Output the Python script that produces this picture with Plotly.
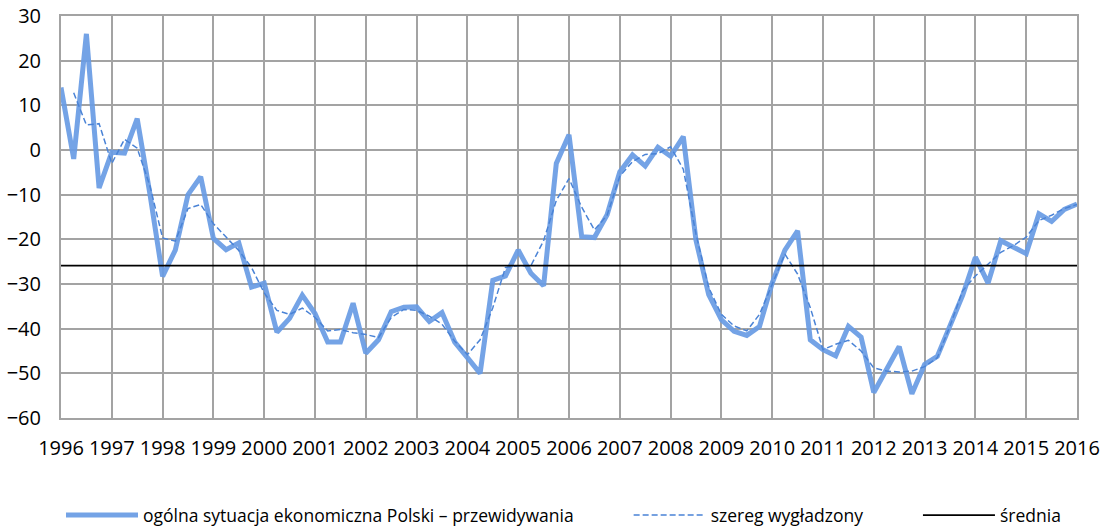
import plotly.graph_objects as go

# Quarterly data, 1996 Q1 .. 2016 Q1
start_year = 1996
main_values = [
    14, -2, 26, -8.5,            # 1996
    -0.5, -0.7, 7, -9.8,         # 1997
    -28.3, -22.4, -10, -6,       # 1998
    -19.8, -22.3, -20.8, -30.7,  # 1999
    -29.8, -40.8, -37.7, -32.5,  # 2000
    -36.6, -43, -43, -34.3,      # 2001
    -45.5, -42.5, -36.2, -35.2,  # 2002
    -35.1, -38.4, -36.4, -43,    # 2003
    -46.5, -50, -29.2, -28.2,    # 2004
    -22.4, -27.6, -30.4, -3,     # 2005
    3.4, -19.4, -19.6, -14.5,    # 2006
    -4.9, -1.1, -3.6, 0.6,       # 2007
    -1.4, 3, -20.2, -32.4,       # 2008
    -38, -40.6, -41.5, -39.5,    # 2009
    -29.8, -22.4, -18.1, -42.5,  # 2010
    -44.7, -46.1, -39.5, -41.9,  # 2011
    -54.3, -49.2, -44, -54.6,    # 2012
    -48, -46.2, -39.5, -32.5,    # 2013
    -24, -29.8, -20.3, -21.6,    # 2014
    -23.2, -14.3, -16, -13.3,    # 2015
    -12.1,                       # 2016
]

# smoothed series starts at 1996 Q2
smoothed_values = [
    12.8, 5.6, 5.9,              # 1996
    -3, 2.4, 0.4, -8,            # 1997
    -19.7, -20.4, -13.1, -12.2,  # 1998
    -16.5, -19.5, -22.5, -26.3,  # 1999
    -32, -35.9, -36.8, -35.4,    # 2000
    -37.5, -40.5, -40.2, -40.9,  # 2001
    -41.3, -42, -37.5, -35.7,    # 2002
    -35.9, -37.2, -39, -42.8,    # 2003
    -45.8, -42.5, -35.3, -26.3,  # 2004
    -25.9, -25.9, -20.3, -11.3,  # 2005
    -6.4, -12.8, -17.9, -14.6,   # 2006
    -5.9, -2.6, -1, -0.8,        # 2007
    0.7, -4.3, -18.8, -30.8,     # 2008
    -36.8, -39.4, -40.5, -36.8,  # 2009
    -30, -23.3, -27.8, -35.3,    # 2010
    -44.7, -43.5, -42.6, -45,    # 2011
    -48.8, -49.5, -49.7, -49.5,  # 2012
    -48.5, -46.5, -39.4, -31.5,  # 2013
    -28.2, -25.5, -22.9, -21.4,  # 2014
    -19.5, -15.8, -14.6, -13.1,  # 2015
    -12.2,                       # 2016
]

mean_value = -25.9

year_ticks = list(range(1996, 2017))
y_ticks = list(range(-60, 31, 10))

names = [
    "ogólna sytuacja ekonomiczna Polski – przewidywania",
    "szereg wygładzony",
    "średnia",
]

x_main = [start_year + i / 4 for i in range(len(main_values))]
x_smooth = [start_year + (i + 1) / 4 for i in range(len(smoothed_values))]

NB = "\u00a0"
fig = go.Figure()
fig.add_trace(go.Scatter(
    x=x_main, y=main_values, mode="lines", name=names[0] + NB * 11,
    line=dict(color="rgba(104,155,228,0.92)", width=5),
))
fig.add_trace(go.Scatter(
    x=x_smooth, y=smoothed_values, mode="lines", name=names[1] + NB * 11,
    line=dict(color="#4a83d6", width=1.5, dash="6px,3px"),
))
fig.add_trace(go.Scatter(
    x=x_main, y=[mean_value] * len(x_main), mode="lines", name=names[2],
    line=dict(color="black", width=1.8),
))

grid_color = "#a3a3a3"
fig.update_layout(
    width=1106, height=532,
    margin=dict(l=61, r=29, t=16, b=114, autoexpand=False),
    paper_bgcolor="white", plot_bgcolor="white",
    font=dict(family="Open Sans, DejaVu Sans, sans-serif", color="black"),
    showlegend=True,
    legend=dict(
        orientation="h", x=0.0, xanchor="left", y=-0.197, yanchor="top",
        font=dict(size=17.5), itemwidth=72, bgcolor="rgba(0,0,0,0)",
        traceorder="normal",
    ),
    xaxis=dict(
        range=[1996, 2016], tickvals=year_ticks, ticktext=[str(y) for y in year_ticks],
        showgrid=True, gridcolor=grid_color, gridwidth=2,
        showline=True, linecolor=grid_color, linewidth=2, mirror=True,
        zeroline=False, ticks="", tickfont=dict(size=20), ticklabelstandoff=11,
        automargin=False, ticklabeloverflow="allow",
    ),
    yaxis=dict(
        range=[-60, 30], tickvals=y_ticks,
        showgrid=True, gridcolor=grid_color, gridwidth=2,
        showline=True, linecolor=grid_color, linewidth=2, mirror=True,
        zeroline=False, ticks="", tickfont=dict(size=20), ticklabelstandoff=14,
        automargin=False, ticklabeloverflow="allow",
    ),
)

fig.write_html(
    "out.html",
    config={"displayModeBar": False},
    post_script="document.body.style.margin='0';document.body.style.overflow='hidden';",
)
